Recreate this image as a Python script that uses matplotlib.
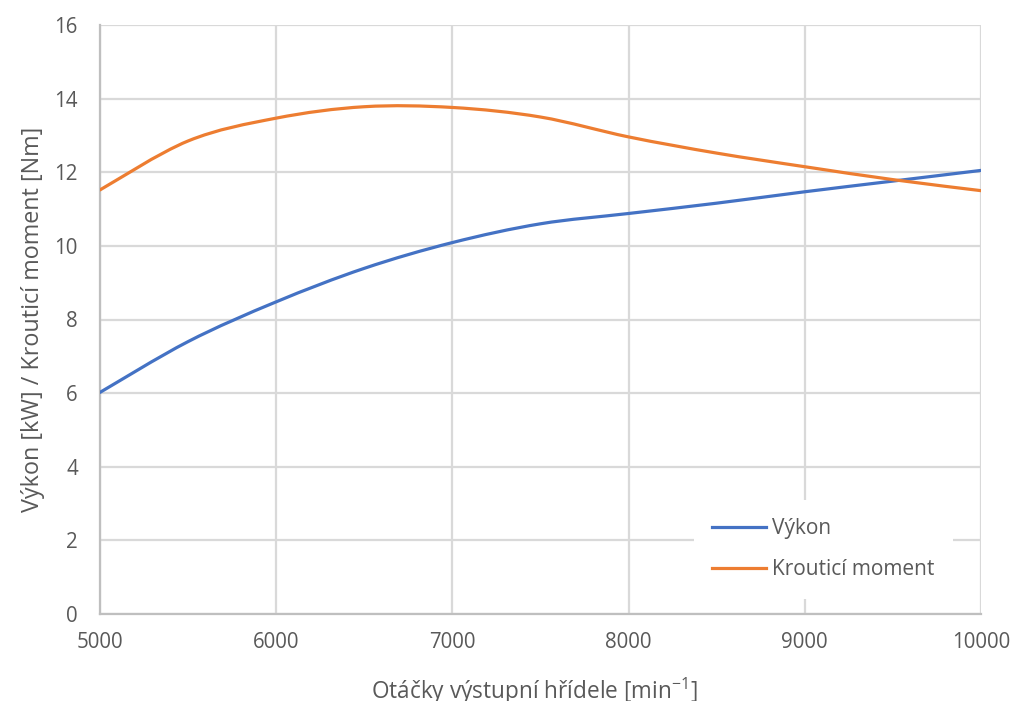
import matplotlib
matplotlib.use("Agg")
import matplotlib.pyplot as plt
from matplotlib.path import Path
from matplotlib.patches import PathPatch
from matplotlib.lines import Line2D
import numpy as np

rpm = [5000, 5500, 6000, 6500, 7000, 7500, 8000, 8500, 9000, 9500, 10000]
vykon = [6.02, 7.40, 8.48, 9.39, 10.09, 10.60, 10.88, 11.16, 11.47, 11.76, 12.05]
moment = [11.52, 12.85, 13.47, 13.78, 13.76, 13.50, 12.96, 12.52, 12.15, 11.80, 11.50]

x_ticks = [5000, 6000, 7000, 8000, 9000, 10000]
y_ticks = [0, 2, 4, 6, 8, 10, 12, 14, 16]
names = ["Výkon", "Krouticí moment"]
colors = ["#4472C4", "#ED7D31"]

plt.rcParams['font.family'] = ['Open Sans', 'DejaVu Sans']
plt.rcParams['mathtext.fontset'] = 'custom'
plt.rcParams['mathtext.rm'] = 'Open Sans'
plt.rcParams['mathtext.it'] = 'Open Sans'

fig = plt.figure(figsize=(10.14, 7.01), dpi=100)
ax = fig.add_axes([100/1014, 1 - 614/701, (981-100)/1014, (614-25)/701])


def smooth_path(xs, ys, tension=1/6):
    xs = np.asarray(xs, float); ys = np.asarray(ys, float)
    n = len(xs)
    verts = [(xs[0], ys[0])]
    codes = [Path.MOVETO]
    for i in range(n - 1):
        p0 = np.array([xs[max(i-1, 0)], ys[max(i-1, 0)]])
        p1 = np.array([xs[i], ys[i]])
        p2 = np.array([xs[i+1], ys[i+1]])
        p3 = np.array([xs[min(i+2, n-1)], ys[min(i+2, n-1)]])
        c1 = p1 + (p2 - p0) * tension
        c2 = p2 - (p3 - p1) * tension
        verts += [tuple(c1), tuple(c2), tuple(p2)]
        codes += [Path.CURVE4] * 3
    return Path(verts, codes)


for ys, c in zip([vykon, moment], colors):
    patch = PathPatch(smooth_path(rpm, ys), facecolor='none', edgecolor=c,
                      linewidth=2.3, capstyle='round', zorder=3)
    ax.add_patch(patch)

ax.set_xlim(5000, 10000)
ax.set_ylim(0, 16)
ax.set_xticks(x_ticks)
ax.set_yticks(y_ticks)
ax.grid(True, color='#D9D9D9', linewidth=1.6, zorder=0)
ax.set_axisbelow(True)
for s in ['top', 'right']:
    ax.spines[s].set_visible(False)
for s in ['left', 'bottom']:
    ax.spines[s].set_color('#BFBFBF')
    ax.spines[s].set_linewidth(1.6)
ax.tick_params(axis='both', length=0, labelsize=14.8, labelcolor='#595959')
ax.tick_params(axis='y', pad=16)
ax.tick_params(axis='x', pad=13)

ax.set_xlabel(r'Otáčky výstupní hřídele [min$^{\mathregular{-1}}$]',
              fontsize=16.3, color='#595959', labelpad=16)
ax.xaxis.set_label_coords(0.5 - 6/881, -0.105)
ax.xaxis.label.set_va('top')
ax.set_ylabel('Výkon [kW] / Krouticí moment [Nm]', fontsize=16.8,
              color='#595959', labelpad=7)

handles = [Line2D([], [], color=c, linewidth=2.3) for c in colors]
leg = ax.legend(handles, names, loc='lower right', bbox_to_anchor=(0.98, 0.008),
                frameon=True, fontsize=15, handlelength=2.55, handletextpad=0.3,
                labelspacing=0.95, borderpad=0.9, fancybox=False)
leg.get_frame().set_edgecolor('none')
leg.get_frame().set_facecolor('white')
leg.get_frame().set_alpha(1)
for t in leg.get_texts():
    t.set_color('#595959')

fig.savefig('out.png', dpi=100)
